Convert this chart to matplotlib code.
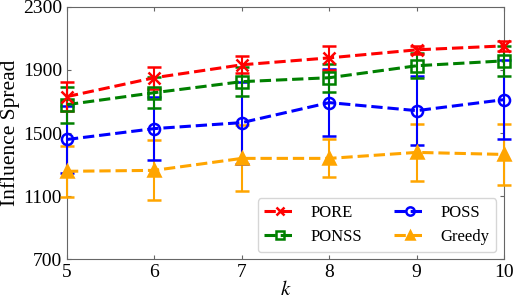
import numpy as np
import matplotlib
matplotlib.use("Agg")
import matplotlib.pyplot as plt
from matplotlib.lines import Line2D

plt.rcParams['font.family'] = ['Liberation Serif', 'DejaVu Serif']
plt.rcParams['mathtext.fontset'] = 'stix'

# datos
k = [5, 6, 7, 8, 9, 10]
pore = [1731, 1851, 1933, 1977, 2028, 2053]
pore_err = [90, 70, 55, 75, 25, 30]
ponss = [1680, 1756, 1826, 1851, 1927, 1958]
ponss_err = [115, 98, 90, 90, 80, 95]
poss = [1459, 1528, 1566, 1693, 1642, 1712]
poss_err = [210, 200, 260, 215, 220, 250]
greedy = [1257, 1263, 1339, 1339, 1377, 1364]
greedy_err = [160, 190, 210, 120, 180, 195]

yticks = [700, 1100, 1500, 1900, 2300]

fig, ax = plt.subplots(figsize=(5.15, 3.03), dpi=100)
fig.subplots_adjust(left=0.130, right=0.979, top=0.977, bottom=0.145)

series = [
    ("PORE", pore, pore_err, 'red', 'x', 'red'),
    ("PONSS", ponss, ponss_err, 'green', 's', 'none'),
    ("POSS", poss, poss_err, 'blue', 'o', 'none'),
    ("Greedy", greedy, greedy_err, 'orange', '^', 'orange'),
]
handles = []
for name, y, e, c, m, fc in reversed(series):
    ax.errorbar(k, y, yerr=e, color=c, ecolor=c, elinewidth=1.5, capsize=5, capthick=1.5,
                linestyle='--', linewidth=2.2, marker=m, markersize=8, mfc=fc, mec=c,
                mew=1.8, clip_on=False, zorder=3)
for name, y, e, c, m, fc in series:
    handles.append(Line2D([], [], color=c, linestyle='--', linewidth=2.2, marker=m,
                          markersize=6, mfc=fc, mec=c, mew=1.8, label=name))

ax.set_xlim(5, 10)
ax.set_ylim(700, 2300)
ax.set_xticks(k)
ax.set_yticks(yticks)
ax.tick_params(direction='in', top=True, right=True, labelsize=14, colors='#666666',
               labelcolor='black', length=3)
for s in ax.spines.values():
    s.set_color('#666666')

ax.set_xlabel('$k$', fontsize=15, labelpad=0)
ax.set_ylabel('Influence Spread', fontsize=15.5, labelpad=2)

ax.legend(handles=handles, ncol=2, loc='lower right', fontsize=12, frameon=True,
          handlelength=1.9, handletextpad=0.9, columnspacing=1.9,
          bbox_to_anchor=(0.99, 0.015), borderaxespad=0.2)

fig.savefig('out.png', dpi=100)
